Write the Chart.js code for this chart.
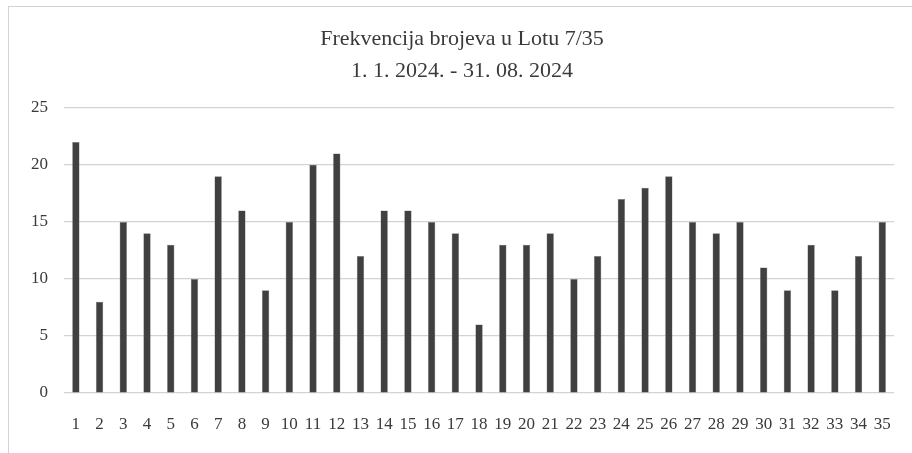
<!DOCTYPE html>
<html>
<head>
<meta charset="utf-8">
<script src="https://cdn.jsdelivr.net/npm/chart.js@4"></script>
<style>
  html, body { margin: 0; padding: 0; background: #fff; }
  #wrap { position: relative; width: 912px; height: 453px; overflow: hidden; }
  #frame {
    position: absolute; left: 8px; top: 6px; width: 940px; height: 470px;
    border-top: 1px solid #d3d3d3; border-left: 1px solid #d3d3d3;
    pointer-events: none;
  }
  canvas { position: absolute; left: 0; top: 0; }
</style>
</head>
<body>
<div id="wrap">
  <canvas id="chart" width="912" height="453"></canvas>
  <div id="frame"></div>
</div>
<script>
// --- Data ---
const brojevi = ["1","2","3","4","5","6","7","8","9","10","11","12","13","14","15","16","17","18",
                 "19","20","21","22","23","24","25","26","27","28","29","30","31","32","33","34","35"];
const frekvencija = [22, 8, 15, 14, 13, 10, 19, 16, 9, 15, 20, 21, 12, 16, 16, 15, 14, 6,
                     13, 13, 14, 10, 12, 17, 18, 19, 15, 14, 15, 11, 9, 13, 9, 12, 15];
const yTicks = [0, 5, 10, 15, 20, 25];

const FONT = "'Liberation Serif', 'Times New Roman', serif";
const TEXT = "#3a3a3a";

new Chart(document.getElementById("chart"), {
  type: "bar",
  data: {
    labels: brojevi,
    datasets: [{
      data: frekvencija,
      backgroundColor: "#404040",
      borderColor: "#7a7a7a",
      borderWidth: 0.5,
      barPercentage: 0.31,
      categoryPercentage: 1
    }]
  },
  options: {
    responsive: false,
    animation: false,
    layout: { padding: { left: 28, right: 16, top: 0, bottom: 0 } },
    plugins: {
      legend: { display: false },
      tooltip: { enabled: false },
      title: {
        display: true,
        text: "Frekvencija brojeva u Lotu 7/35",
        color: TEXT,
        font: { family: FONT, size: 22, weight: "normal" },
        padding: { top: 26, bottom: 6 }
      },
      subtitle: {
        display: true,
        text: "1. 1. 2024. - 31. 08. 2024",
        color: TEXT,
        font: { family: FONT, size: 22, weight: "normal" },
        padding: { top: 0, bottom: 23 }
      }
    },
    scales: {
      x: {
        grid: { display: false, drawTicks: false },
        border: { display: false },
        ticks: { color: TEXT, font: { family: FONT, size: 17 }, padding: 21, maxRotation: 0, autoSkip: false },
        afterFit: (s) => { s.height = 60; }
      },
      y: {
        min: 0,
        max: 25,
        afterBuildTicks: (s) => { s.ticks = yTicks.map(v => ({ value: v })); },
        grid: { color: "#d3d3d3", lineWidth: 1.2, drawTicks: false },
        border: { display: false },
        ticks: { color: TEXT, font: { family: FONT, size: 17 }, padding: 16 },
        afterFit: (s) => { s.width = 36; }
      }
    }
  }
});
</script>
</body>
</html>
